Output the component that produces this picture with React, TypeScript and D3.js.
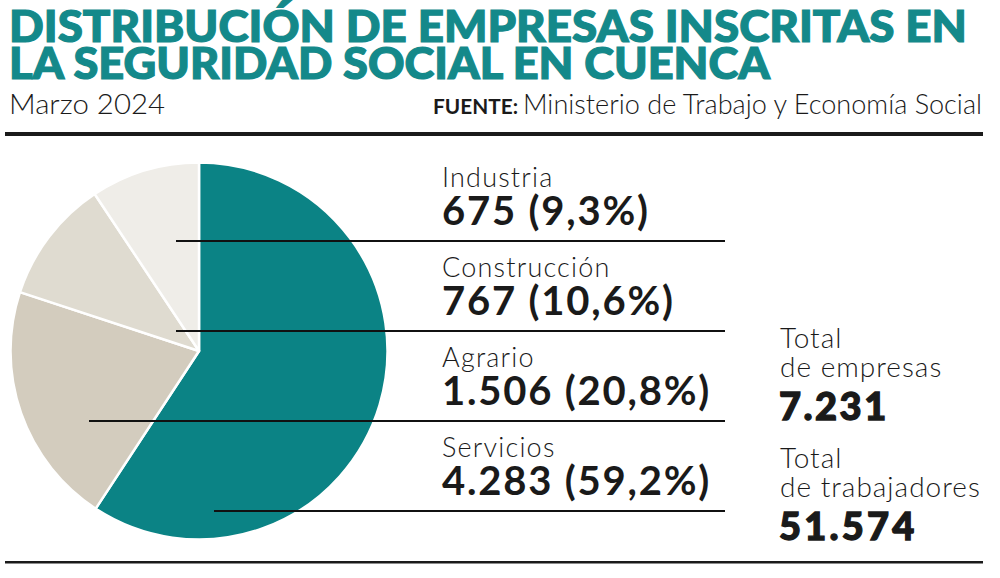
import React from 'react';
import * as d3 from 'd3';

// ---- data ----
const categories = ['Servicios', 'Agrario', 'Construcción', 'Industria'];
const companies = [4283, 1506, 767, 675];
const valueLabels = ['4.283', '1.506', '767', '675'];
const shareLabels = ['59,2%', '20,8%', '10,6%', '9,3%'];
const sliceColors = ['#0b8385', '#d3ccbe', '#dfdbd0', '#efede8'];
const labelOrder = ['Industria', 'Construcción', 'Agrario', 'Servicios'];
const totalCompaniesLabel = '7.231';
const totalWorkersLabel = '51.574';

const titleLines = ['DISTRIBUCIÓN DE EMPRESAS INSCRITAS EN', 'LA SEGURIDAD SOCIAL EN CUENCA'];
const subtitle = 'Marzo 2024';
const sourceLabel = 'FUENTE:';
const sourceText = 'Ministerio de Trabajo y Economía Social';

// ---- layout ----
const W = 1000;
const H = 578;
const cx = 199;
const cy = 351;
const R = 188.5;
// leader line start, horizontal offset from pie centre (per row, top to bottom)
const leaderDx = [-23, -23, -110, 15];
const LIGHT = "'Lato', 'Open Sans', sans-serif";
const BOLD = "'Lato', sans-serif";
const INK = '#1a1a1a';

export default function App() {
  const pie = d3.pie<number>().sort(null).value((d) => d).startAngle(0).endAngle(2 * Math.PI);
  const arcs = pie(companies);
  const arc = d3.arc<d3.PieArcDatum<number>>().innerRadius(0).outerRadius(R);

  const rowY = d3.scaleLinear().domain([0, 3]).range([241, 511]);
  const lineEnd = 725;
  const textX = 442;

  const light = (extra: any = {}) => ({ fontFamily: LIGHT, fontWeight: 300, fontSize: 28, fill: INK, letterSpacing: 1, ...extra });

  return (
    <svg width={W} height={H} style={{ position: 'absolute', left: 0, top: 0, background: '#fff' }}>
      {/* Title */}
      {titleLines.map((t, i) => (
        <text
          key={t}
          x={9}
          y={42 + i * 37}
          fill="#14898a"
          stroke="#14898a"
          strokeWidth={1.2}
          fontFamily={BOLD}
          fontWeight={900}
          fontSize={44}
          textLength={i === 0 ? 958 : 761}
          lengthAdjust="spacingAndGlyphs"
        >
          {t}
        </text>
      ))}
      <text x={9} y={114} fontFamily={LIGHT} fontWeight={300} fontSize={28} fill={INK} textLength={156} lengthAdjust="spacingAndGlyphs">
        {subtitle}
      </text>
      <text x={433} y={114} fontFamily={BOLD} fontWeight={700} fontSize={21} fill={INK} textLength={85} lengthAdjust="spacingAndGlyphs">
        {sourceLabel}
      </text>
      <text x={523} y={114} fontFamily={LIGHT} fontWeight={300} fontSize={27} fill={INK} textLength={459} lengthAdjust="spacingAndGlyphs">
        {sourceText}
      </text>
      <rect x={5} y={132} width={978} height={4} fill={INK} />

      {/* Pie */}
      <g transform={`translate(${cx},${cy})`}>
        {arcs.map((a, i) => (
          <path key={categories[i]} d={arc(a) || ''} fill={sliceColors[i]} stroke="#fff" strokeWidth={2.5} strokeLinejoin="round" />
        ))}
      </g>

      {/* Labels */}
      {labelOrder.map((name, row) => {
        const i = categories.indexOf(name);
        const y = rowY(row);
        return (
          <g key={name}>
            <line x1={cx + leaderDx[row]} x2={lineEnd} y1={y} y2={y} stroke="#111" strokeWidth={2} />
            <text x={textX} y={y - 54} {...light({ fontSize: 27, letterSpacing: 1.2 })}>
              {name}
            </text>
            <text x={textX} y={y - 16} fontFamily={BOLD} fontWeight={700} fontSize={40} fill={INK} letterSpacing={1.8}>
              {`${valueLabels[i]} (${shareLabels[i]})`}
            </text>
          </g>
        );
      })}

      {/* Totals */}
      <text x={780} y={348} {...light()}>Total</text>
      <text x={780} y={377} {...light()}>de empresas</text>
      <text x={779} y={420} fontFamily={BOLD} fontWeight={900} fontSize={38} fill={INK} stroke={INK} strokeWidth={1.3} letterSpacing={2.5}>{totalCompaniesLabel}</text>
      <text x={780} y={468} {...light()}>Total</text>
      <text x={780} y={497} {...light()}>de trabajadores</text>
      <text x={779} y={540} fontFamily={BOLD} fontWeight={900} fontSize={38} fill={INK} stroke={INK} strokeWidth={1.3} letterSpacing={3.2}>{totalWorkersLabel}</text>

      <rect x={5} y={561} width={978} height={2.5} fill={INK} />
    </svg>
  );
}
